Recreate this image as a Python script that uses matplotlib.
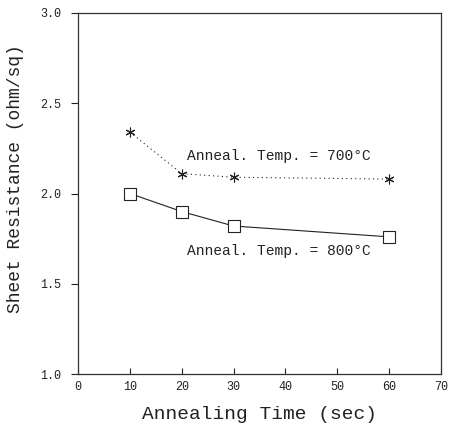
import matplotlib
matplotlib.use("Agg")
import matplotlib.pyplot as plt

# annealing time (sec)
time_700 = [10, 20, 30, 60]
rs_700 = [2.34, 2.11, 2.09, 2.08]
time_800 = [10, 20, 30, 60]
rs_800 = [2.00, 1.90, 1.82, 1.76]

xticks = [0, 10, 20, 30, 40, 50, 60, 70]
yticks = [1.0, 1.5, 2.0, 2.5, 3.0]

mono = "Liberation Mono"
ink = "#222222"

fig = plt.figure(figsize=(4.54, 4.30), dpi=100)
ax = fig.add_axes([0.172, 0.130, 0.799, 0.840])

ax.plot(time_700, rs_700, color=ink, lw=0.8, ls=(0, (1, 3)),
        marker=(6, 2, 0), ms=7, mew=0.8)
ax.plot(time_800, rs_800, color=ink, lw=0.8, ls="-",
        marker="s", ms=8, mfc="white", mec=ink, mew=0.8)

ax.text(21, 2.21, "Anneal. Temp. = 700°C", family=mono, fontsize=10.5,
        color=ink, va="center")
ax.text(21, 1.68, "Anneal. Temp. = 800°C", family=mono, fontsize=10.5,
        color=ink, va="center")

ax.set_xlim(0, 70)
ax.set_ylim(1.0, 3.0)
ax.set_xticks(xticks)
ax.set_yticks(yticks)
ax.set_xticklabels([str(v) for v in xticks], family=mono, fontsize=8.5)
ax.set_yticklabels(["%.1f" % v for v in yticks], family=mono, fontsize=8.5)
ax.tick_params(axis="x", direction="in", length=4, width=0.8, colors=ink, pad=5)
ax.tick_params(axis="y", direction="out", length=5, width=0.8, colors=ink, pad=7)

for s in ax.spines.values():
    s.set_linewidth(0.9)
    s.set_color("#333333")

ax.set_xlabel("Annealing Time (sec)", family=mono, fontsize=14, color=ink, labelpad=9)
ax.set_ylabel("Sheet Resistance (ohm/sq)", family=mono, fontsize=13, color=ink)
ax.yaxis.set_label_coords(-0.15, 0.54)

fig.savefig("out.png", dpi=100)
